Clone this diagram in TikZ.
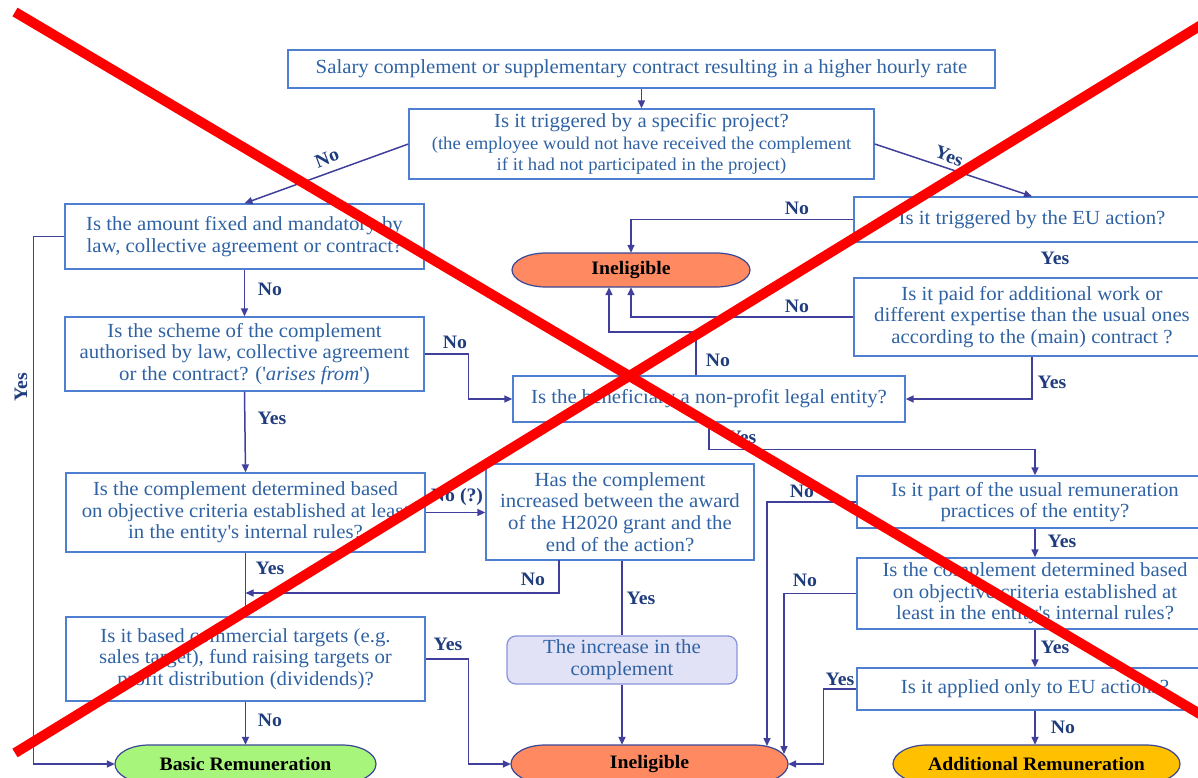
\documentclass[tikz,border=0pt]{standalone}
\usepackage{fontspec}
\setmainfont{Liberation Serif}[FakeStretch=1.04]
\usetikzlibrary{arrows.meta,calc}
\definecolor{boxc}{HTML}{4F7FD0}
\definecolor{txtc}{HTML}{2F62A3}
\definecolor{linec}{HTML}{40409C}
\definecolor{labc}{HTML}{1F3C7C}
\definecolor{inelc}{HTML}{FF8A62}
\definecolor{basicc}{HTML}{A8F57C}
\definecolor{addc}{HTML}{FFC000}
\definecolor{termd}{HTML}{3A4696}
\definecolor{incc}{HTML}{E2E2F6}
\definecolor{incd}{HTML}{8A94DA}
\newcommand{\mainf}{\fontsize{20}{21.7}\selectfont}
\newcommand{\smallf}{\fontsize{18}{20}\selectfont}
\newcommand{\labf}{\fontsize{19}{20}\selectfont\bfseries}
\newcommand{\sq}{\textquotesingle}
\newcommand{\stadium}[7]{%
 \pgfmathsetmacro{\sxl}{#2-#4/2+34}\pgfmathsetmacro{\sxr}{#2+#4/2-34}%
 \pgfmathsetmacro{\syt}{#3-#5/2}\pgfmathsetmacro{\syb}{#3+#5/2}\pgfmathsetmacro{\sry}{#5/2}%
 \path[draw=termd,line width=1.2pt,fill=#6] (\sxl,\syt) -- (\sxr,\syt)
   arc[start angle=90,end angle=-90,x radius=34pt,y radius=\sry pt] -- (\sxl,\syb)
   arc[start angle=270,end angle=90,x radius=34pt,y radius=\sry pt] -- cycle;
 \node[termtext,minimum width=#4pt,minimum height=#5pt] (#1) at (#2,#3) {#7};}
\begin{document}
\begin{tikzpicture}[x=1pt,y=-1pt,
  box/.style={draw=boxc,line width=1.3pt,rectangle,inner sep=0pt,text=txtc,align=center,font=\mainf},
  incbox/.style={draw=incd,fill=incc,line width=1.3pt,rounded corners=9pt,inner sep=0pt,text=txtc,align=center,font=\mainf},
  termtext/.style={inner sep=0pt,font=\labf,text=black},
  lab/.style={font=\labf,text=labc,inner sep=0pt},
  arr/.style={draw=linec,line width=1.5pt,-{Triangle[length=8pt,width=7pt]}},
  ln/.style={draw=linec,line width=1.5pt},
  xline/.style={draw=red,line width=10pt}
]
\useasboundingbox (0,0) rectangle (1198,778);
% boxes
\node[box,minimum width=707pt,minimum height=38pt] (top) at (641.5,69) {Salary complement or supplementary contract resulting in a higher hourly rate};
\node[box,minimum width=465pt,minimum height=70pt] (q1) at (641.5,144) {Is it triggered by a specific project?\\{\smallf(the employee would not have received the complement}\\{\smallf if it had not participated in the project)}};
\node[box,minimum width=359pt,minimum height=65pt] (A) at (244.5,236.5) {Is the amount fixed and mandatory by\\law, collective agreement or contract?};
\node[box,minimum width=359pt,minimum height=74pt] (B) at (244.5,354) {Is the scheme of the complement\\authorised by law, collective agreement\\or the contract? (\sq\textit{arises from}\sq)};
\node[box,minimum width=359pt,minimum height=79pt] (C) at (245.5,512.5) {Is the complement determined based\\on objective criteria established at least\\in the entity\sq s internal rules?};
\node[box,minimum width=359pt,minimum height=84pt] (D) at (245.5,659) {Is it based commercial targets (e.g.\\sales target), fund raising targets or\\profit distribution (dividends)?};
\node[box,minimum width=268pt,minimum height=96pt] (E) at (620,512) {Has the complement\\increased between the award\\of the H2020 grant and the\\end of the action?};
\node[incbox,minimum width=230pt,minimum height=48pt] (F) at (622,660) {The increase in the\\complement};
\node[box,minimum width=356pt,minimum height=45pt] (G) at (1032,219.5) {Is it triggered by the EU action?};
\node[box,minimum width=356pt,minimum height=78pt] (H) at (1032,317) {Is it paid for additional work or\\different expertise than the usual ones\\according to the (main) contract ?};
\node[box,minimum width=392pt,minimum height=46pt] (I) at (709,399) {Is the beneficiary a non-profit legal entity?};
\node[box,minimum width=356pt,minimum height=52pt] (J) at (1035,502) {Is it part of the usual remuneration\\practices of the entity?};
\node[box,minimum width=356pt,minimum height=71pt] (K) at (1035,593.5) {Is the complement determined based\\on objective criteria established at\\least in the entity\sq s internal rules?};
\node[box,minimum width=356pt,minimum height=42pt] (L) at (1035,689) {Is it applied only to EU actions?};
% terminals
\stadium{inel1}{631}{270}{238}{34}{inelc}{Ineligible}
\stadium{inel2}{649.5}{764}{277}{38}{inelc}{Ineligible}
\stadium{basic}{245.5}{764}{261}{38}{basicc}{Basic Remuneration}
\stadium{add}{1036.5}{764}{287}{38}{addc}{Additional Remuneration}
% helper coordinates
\coordinate (eno) at (559,560);
\coordinate (m1) at (245.5,593);
\coordinate (n1) at (609,332);
\coordinate (e1) at (767,746);
\coordinate (e2) at (784,754);
% connectors
\draw[arr] (top.south) -- (q1.north);
\draw[arr] (q1.west) -- (A.north);
\draw[arr] (q1.east) -- (G.north);
\draw[arr] (A.west) -- ++(-31,0) |- (basic.west);
\draw[arr] (A.south) -- (B.north);
\draw[arr] (B.south) -- (C.north);
\draw[arr] (B.east) -- ++(44,0) |- (I.west);
\draw[ln] (C.south) -- (D.north);
\draw[arr] (C.east) -- (C.east -| E.west);
\draw[arr] (eno) |- (m1);
\draw[ln] (F.north |- E.south) -- (F.north);
\draw[arr] (F.south) -- (F.south |- inel2.north);
\draw[arr] (D.east) -- ++(43,0) |- (inel2.west);
\draw[arr] (D.south) -- (basic.north);
\draw[arr] (G.west) -| (inel1.north);
\draw[arr] (H.west) -| (inel1.south);
\draw[arr] ([xshift=-13pt]I.north) |- (n1) -- (n1 |- inel1.south);
\draw[arr] (H.south) |- (I.east);
\draw[arr] (I.south) -- ++(0,27) -| (J.north);
\draw[arr] (J.west) -| (e1);
\draw[arr] (J.south) -- (K.north);
\draw[arr] (K.west) -| (e2);
\draw[arr] (K.south) -- (L.north);
\draw[arr] (L.west) -- ++(-33,0) |- (inel2.east);
\draw[arr] (L.south) -- (L.south |- add.north);
% labels
\node[lab,rotate=21] (l1) at (327,158) {No};
\node[lab,rotate=-20] (l2) at (949,156) {Yes};
\node[lab,rotate=90] (l3) at (21,387) {Yes};
\node[lab] (l4) at (270,289) {No};
\node[lab] (l5) at (272,418) {Yes};
\node[lab] (l6) at (455,342) {No};
\node[lab] (l7) at (270,568) {Yes};
\node[lab] (l8) at (457,497) {No (?)};
\node[lab] (l9) at (533,579) {No};
\node[lab] (l10) at (641,598) {Yes};
\node[lab] (l11) at (448,644) {Yes};
\node[lab] (l12) at (270,720) {No};
\node[lab] (l13) at (797,208) {No};
\node[lab] (l14) at (1055,258) {Yes};
\node[lab] (l15) at (797,306) {No};
\node[lab] (l16) at (718,360) {No};
\node[lab] (l17) at (1052,382) {Yes};
\node[lab] (l18) at (742,437) {Yes};
\node[lab] (l19) at (802,491) {No};
\node[lab] (l20) at (1062,541) {Yes};
\node[lab] (l21) at (805,580) {No};
\node[lab] (l22) at (1055,647) {Yes};
\node[lab] (l23) at (840,679) {Yes};
\node[lab] (l24) at (1063,727) {No};
% red cross
\draw[xline] (15,12) -- (1210,720);
\draw[xline] (1210,19.6) -- (15,753);
\end{tikzpicture}
\end{document}
